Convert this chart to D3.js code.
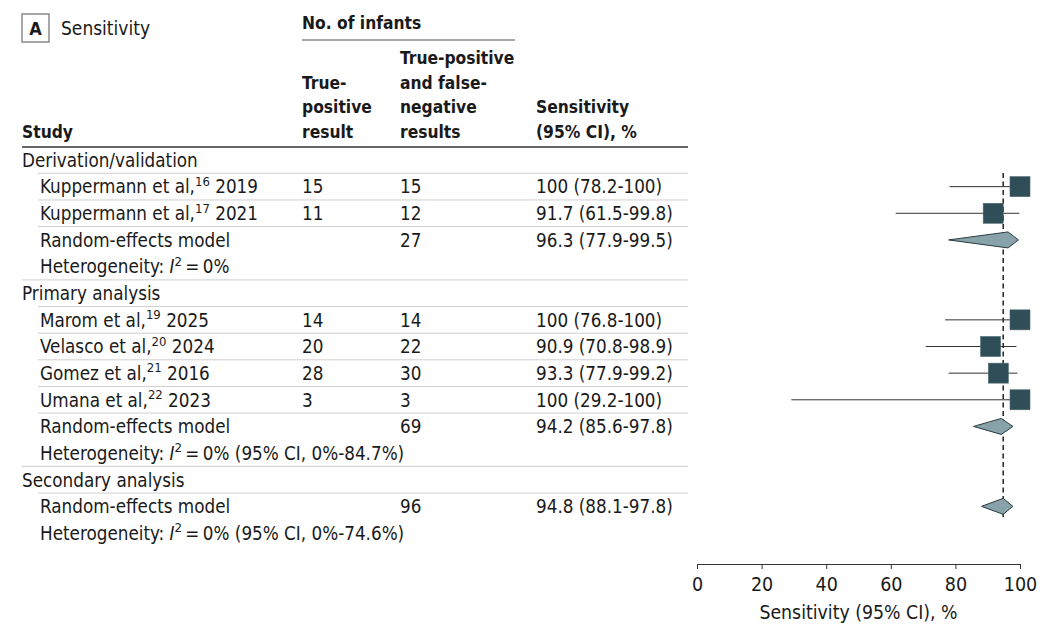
<!DOCTYPE html>
<html>
<head>
<meta charset="utf-8">
<script src="https://cdn.jsdelivr.net/npm/d3@7"></script>
<style>
  body { margin: 0; background: #fff; }
  svg text { font-family: "Liberation Sans Narrow", "DejaVu Sans Condensed", "Roboto", sans-serif; fill: #1a1a1a; }
  .hdr { font-weight: bold; }
</style>
</head>
<body>
<div id="chart"></div>
<script>
// study level data
const groups = ["Derivation/validation", "Primary analysis", "Secondary analysis"];
const studyNames = ["Kuppermann et al", "Kuppermann et al", "Marom et al", "Velasco et al", "Gomez et al", "Umana et al"];
const studyRefs = ["16", "17", "19", "20", "21", "22"];
const studyYears = ["2019", "2021", "2025", "2024", "2016", "2023"];
const studyGroup = [0, 0, 1, 1, 1, 1];
const truePos = [15, 11, 14, 20, 28, 3];
const totalPos = [15, 12, 14, 22, 30, 3];
const sens = [100, 91.7, 100, 90.9, 93.3, 100];
const ciLow = [78.2, 61.5, 76.8, 70.8, 77.9, 29.2];
const ciHigh = [100, 99.8, 100, 98.9, 99.2, 100];

// pooled (random-effects) per group
const pooledTotal = [27, 69, 96];
const pooledSens = [96.3, 94.2, 94.8];
const pooledLow = [77.9, 85.6, 88.1];
const pooledHigh = [99.5, 97.8, 97.8];
const pooledI2 = ["0%", "0% (95% CI, 0%-84.7%)", "0% (95% CI, 0%-74.6%)"];

const refLine = 94.8;
const xTicks = [0, 20, 40, 60, 80, 100];

const width = 1064, height = 642;
const fs = 18.7;
const hfs = 17.3;

const svg = d3.select("#chart").append("svg")
  .attr("width", width)
  .attr("height", height);

// build the row list
let rows = [];
groups.forEach(function (g, gi) {
  rows.push({ type: "group", label: g });
  studyNames.forEach(function (n, i) {
    if (studyGroup[i] === gi) rows.push({ type: "study", i: i });
  });
  rows.push({ type: "pooled", g: gi });
  rows.push({ type: "het", g: gi });
});

const y = d3.scaleLinear().domain([0, rows.length - 1]).range([160, 533]);
const x = d3.scaleLinear().domain([0, 100]).range([697, 1020]);

const col = { group: 22, study: 40, tp: 302, tot: 400, est: 536 };
const base = 6.8; // baseline offset from row centre

// header
svg.append("rect")
  .attr("x", 22).attr("y", 14).attr("width", 27).attr("height", 28)
  .attr("fill", "none").attr("stroke", "#8a8a8a").attr("stroke-width", 1.5);
svg.append("text").attr("class", "hdr")
  .attr("x", 35.5).attr("y", 35).attr("text-anchor", "middle")
  .style("font-size", "18px").text("A");
svg.append("text")
  .attr("x", 61).attr("y", 35).style("font-size", "19px").text("Sensitivity");

svg.append("text").attr("class", "hdr")
  .attr("x", col.tp).attr("y", 29).style("font-size", hfs + "px").text("No. of infants");
svg.append("line")
  .attr("x1", col.tp).attr("x2", 515).attr("y1", 40).attr("y2", 40)
  .attr("stroke", "#555").attr("stroke-width", 1);

const headerCols = [
  { x: col.group, lines: ["Study"] },
  { x: col.tp, lines: ["True-", "positive", "result"] },
  { x: col.tot, lines: ["True-positive", "and false-", "negative", "results"] },
  { x: col.est, lines: ["Sensitivity", "(95% CI), %"] }
];
headerCols.forEach(function (h) {
  h.lines.forEach(function (l, k) {
    svg.append("text").attr("class", "hdr")
      .attr("x", h.x)
      .attr("y", 138 - (h.lines.length - 1 - k) * 24.7)
      .style("font-size", hfs + "px")
      .text(l);
  });
});

svg.append("line")
  .attr("x1", 22).attr("x2", 688).attr("y1", 147).attr("y2", 147)
  .attr("stroke", "#333").attr("stroke-width", 1.6);

// separators between rows
rows.forEach(function (r, i) {
  if (i === rows.length - 1) return;
  if (r.type === "pooled") return;
  let full = r.type === "het";
  svg.append("line")
    .attr("x1", full ? 22 : 38).attr("x2", 688)
    .attr("y1", y(i + 0.5)).attr("y2", y(i + 0.5))
    .attr("stroke", "#cfcfcf").attr("stroke-width", 1);
});

// reference dashed line
svg.append("line")
  .attr("x1", x(refLine)).attr("x2", x(refLine))
  .attr("y1", 173).attr("y2", 517)
  .attr("stroke", "#222").attr("stroke-width", 1.5)
  .attr("stroke-dasharray", "5,3.5");

function txt(xp, yp, s) {
  return svg.append("text").attr("x", xp).attr("y", yp + base)
    .style("font-size", fs + "px").text(s);
}

rows.forEach(function (r, ri) {
  let yc = y(ri);
  if (r.type === "group") {
    txt(col.group, yc, r.label);
  } else if (r.type === "study") {
    let i = r.i;
    let t = svg.append("text").attr("x", col.study).attr("y", yc + base)
      .style("font-size", fs + "px");
    t.append("tspan").text(studyNames[i] + ",");
    t.append("tspan").attr("dy", -7.5).style("font-size", "13px").text(studyRefs[i]);
    t.append("tspan").attr("dy", 7.5).text(" " + studyYears[i]);
    txt(col.tp, yc, truePos[i]);
    txt(col.tot, yc, totalPos[i]);
    txt(col.est, yc, sens[i] + " (" + ciLow[i] + "-" + ciHigh[i] + ")");

    // CI line
    svg.append("line")
      .attr("x1", x(ciLow[i])).attr("x2", x(ciHigh[i]))
      .attr("y1", yc).attr("y2", yc)
      .attr("stroke", "#333").attr("stroke-width", 1);
    svg.append("rect")
      .attr("x", x(sens[i]) - 10).attr("y", yc - 10)
      .attr("width", 20).attr("height", 20)
      .attr("fill", "#2f4e57")
      .attr("stroke", "#4f6a72").attr("stroke-width", 0.6);
  } else if (r.type === "pooled") {
    let g = r.g;
    txt(col.study, yc, "Random-effects model");
    txt(col.tot, yc, pooledTotal[g]);
    txt(col.est, yc, pooledSens[g] + " (" + pooledLow[g] + "-" + pooledHigh[g] + ")");
    let pts = [
      [x(pooledLow[g]), yc],
      [x(pooledSens[g]), yc - 8],
      [x(pooledHigh[g]), yc],
      [x(pooledSens[g]), yc + 8]
    ];
    svg.append("path")
      .attr("d", d3.line()(pts) + "Z")
      .attr("fill", "#87a3a9")
      .attr("stroke", "#2a3a40").attr("stroke-width", 1);
  } else if (r.type === "het") {
    let t = svg.append("text").attr("x", col.study).attr("y", yc + base)
      .style("font-size", fs + "px");
    t.append("tspan").text("Heterogeneity: ");
    t.append("tspan").style("font-style", "italic").text("I");
    t.append("tspan").attr("dy", -7.5).style("font-size", "13px").text("2");
    t.append("tspan").attr("dy", 7.5).text("\u2009=\u2009" + pooledI2[r.g]);
  }
});

// axis
const axis = d3.axisBottom(x).tickValues(xTicks).tickSize(5).tickSizeOuter(0).tickPadding(8);
const ag = svg.append("g").attr("transform", "translate(0,564)").call(axis);
ag.select(".domain").attr("stroke", "#333");
ag.selectAll(".tick line").attr("stroke", "#333");
ag.selectAll(".tick text")
  .style("font-size", "19.5px")
  .style("font-family", "\"Liberation Sans Narrow\", \"DejaVu Sans Condensed\", sans-serif")
  .attr("fill", "#1a1a1a");

svg.append("text")
  .attr("x", (x(0) + x(100)) / 2).attr("y", 619)
  .attr("text-anchor", "middle")
  .style("font-size", "19.3px")
  .text("Sensitivity (95% CI), %");
</script>
</body>
</html>
